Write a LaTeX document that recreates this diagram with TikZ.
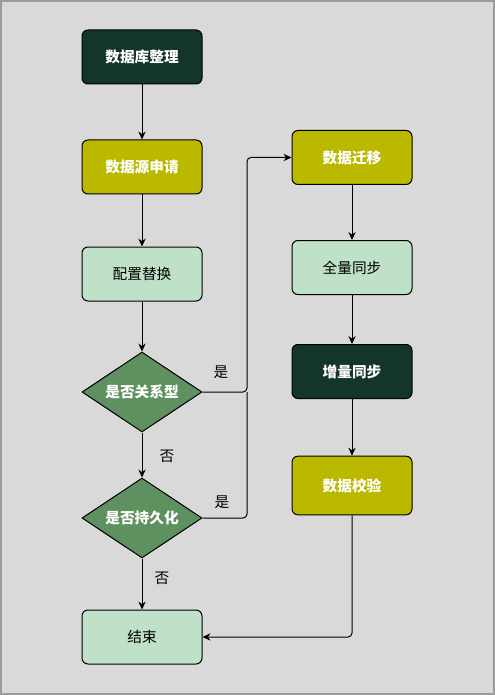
\documentclass[tikz,border=0pt]{standalone}
\usepackage{fontspec}
\setmainfont{Noto Sans CJK SC}
\usetikzlibrary{shapes.geometric,arrows.meta}
\definecolor{bgc}{HTML}{D9D9D9}
\definecolor{framec}{HTML}{9A9A9A}
\definecolor{darkg}{HTML}{14352C}
\definecolor{olivec}{HTML}{BBB800}
\definecolor{lightg}{HTML}{BFE1C7}
\definecolor{diag}{HTML}{5F9060}
\begin{document}
\begin{tikzpicture}[x=0.75pt,y=-0.75pt,
  box/.style={draw=black, line width=0.75pt, rectangle, rounded corners=4.5pt,
    minimum width=90pt, minimum height=40.5pt, inner sep=0pt, font=\fontsize{11pt}{13pt}\selectfont},
  darkbox/.style={box, fill=darkg, text=white, font=\fontsize{11pt}{13pt}\selectfont\bfseries},
  olivebox/.style={box, fill=olivec, text=white, font=\fontsize{11pt}{13pt}\selectfont\bfseries},
  lightbox/.style={box, fill=lightg, text=black},
  decision/.style={draw=black, line width=0.75pt, diamond, shape aspect=1.5, fill=diag,
    minimum width=90pt, minimum height=60pt, inner sep=0pt, text=white,
    font=\fontsize{11pt}{13pt}\selectfont\bfseries},
  conn/.style={draw=black, line width=0.75pt},
  arr/.style={conn, -{Stealth[length=6pt,width=5.5pt,inset=2pt]}},
  lbl/.style={font=\fontsize{11pt}{13pt}\selectfont, text=black, inner sep=0pt}
]
\path[use as bounding box, fill=bgc] (0,0) rectangle (495,695);
\draw[framec, line width=1.2pt] (0.8,0.8) rectangle (494.2,694.2);

\node[darkbox]  (n1) at (142,57)  {数据库整理};
\node[olivebox] (n2) at (142,167) {数据源申请};
\node[lightbox] (n3) at (142,274) {配置替换};
\node[decision] (d1) at (142,392) {是否关系型};
\node[decision] (d2) at (142,518) {是否持久化};
\node[lightbox] (e)  at (142,637) {结束};

\node[olivebox] (m1) at (352,157.5) {数据迁移};
\node[lightbox] (m2) at (352,267.5) {全量同步};
\node[darkbox]  (m3) at (352,371.5) {增量同步};
\node[olivebox, minimum height=44pt] (m4) at (352,485.5) {数据校验};

\coordinate (bus) at (247,157.5);

\draw[arr] (n1) -- (n2);
\draw[arr] (n2) -- (n3);
\draw[arr] (n3) -- (d1);
\draw[arr] (d1) -- (d2);
\draw[arr] (d2) -- (e);
\draw[arr] (m1) -- (m2);
\draw[arr] (m2) -- (m3);
\draw[arr] (m3) -- (m4);
\draw[arr, rounded corners=3pt] (d1.east) -| (bus) -- (m1.west);
\draw[conn, rounded corners=3pt] (d2.east) -| (d1.east -| bus);
\draw[arr, rounded corners=3pt] (m4.south) |- (e.east);

\node[lbl] (y1) at (221,372) {是};
\node[lbl] (y2) at (222,502) {是};
\node[lbl] (no1) at (167,456) {否};
\node[lbl] (no2) at (162,578) {否};
\end{tikzpicture}
\end{document}
